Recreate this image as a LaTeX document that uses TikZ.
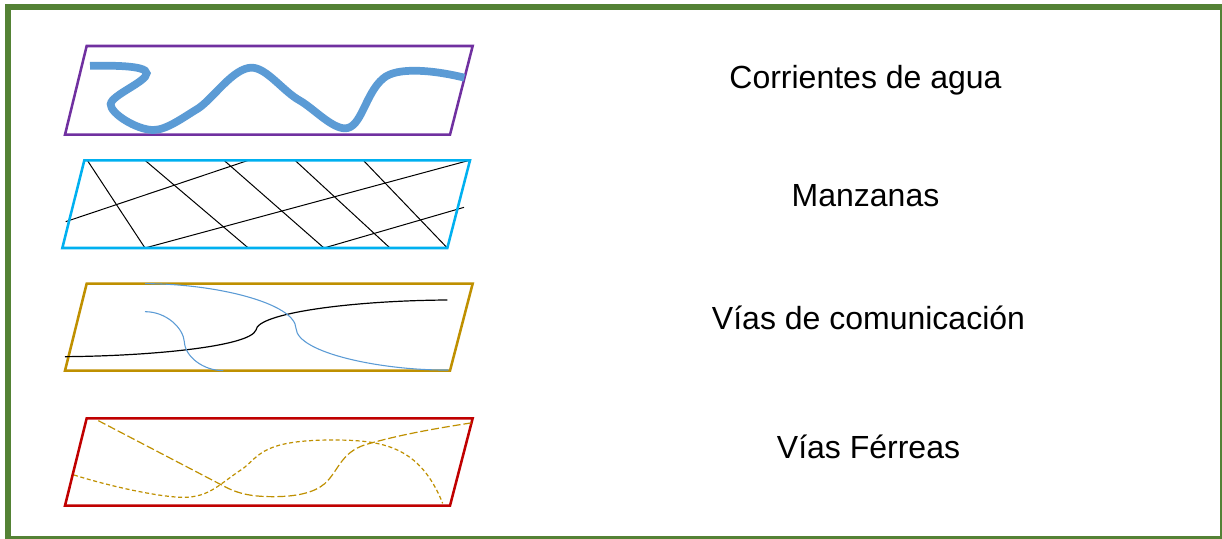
\documentclass[tikz,border=0pt]{standalone}
\usepackage{fontspec}
\setmainfont{Liberation Sans}
\definecolor{framegreen}{HTML}{548235}
\definecolor{riverblue}{HTML}{5B9BD5}
\definecolor{plumb}{HTML}{7030A0}
\definecolor{skyb}{HTML}{00B0F0}
\definecolor{goldb}{HTML}{BF9000}
\definecolor{redb}{HTML}{C00000}
\tikzset{
  plate/.style={line width=1.9pt,line join=miter},
  grid line/.style={black,line width=0.75pt},
  thin road/.style={riverblue,line width=0.8pt},
  main road/.style={black,line width=0.9pt},
  long rail/.style={goldb,line width=0.9pt,dash pattern=on 6pt off 2.2pt},
  short rail/.style={goldb,line width=0.9pt,dash pattern=on 3pt off 2pt},
  label text/.style={font=\fontsize{24}{28}\selectfont,text=black,inner sep=0pt,anchor=center}
}
\begin{document}
\begin{tikzpicture}[x=0.75pt,y=-0.75pt]
\useasboundingbox (0,0) rectangle (1222,539);
\fill[white] (0,0) rectangle (1222,539);
\draw[framegreen,line width=4.5pt] (8,7) rectangle (1223,539);
\begin{scope}[shift={(50,30)},x=0.25pt,y=-0.25pt]
\draw[plate,plumb] (110,48) -- (1268,48) -- (1200,314) -- (45,314) -- cycle;
\draw[riverblue,line width=5.8pt] (120,107) .. controls (180,107) and (290,105) .. (290,130)
  .. controls (290,155) and (185,195) .. (182,222)
  .. controls (180,250) and (260,300) .. (310,300)
  .. controls (350,300) and (400,262) .. (445,235)
  .. controls (490,205) and (550,113) .. (605,113)
  .. controls (650,113) and (700,185) .. (750,212)
  .. controls (790,235) and (845,295) .. (885,295)
  .. controls (935,295) and (945,190) .. (1000,145)
  .. controls (1040,110) and (1150,120) .. (1243,143);
\foreach \a/\b in {112/285,285/595,522/822,735/1020,940/1192}
  \draw[grid line] (\a,391) -- (\b,654);
\draw[grid line] (47,575) -- (595,391);
\draw[grid line] (285,654) -- (1258,391);
\draw[grid line] (822,654) -- (1242,532);
\draw[plate,skyb] (103,391) -- (1260,391) -- (1192,654) -- (37,654) -- cycle;
\end{scope}
\begin{scope}[shift={(50,270)},x=0.25pt,y=-0.25pt]
\draw[plate,goldb] (110,41) -- (1268,41) -- (1200,302) -- (45,302) -- cycle;
\draw[main road] (45,260) .. controls (300,258) and (600,230) .. (618,180)
  .. controls (622,130) and (900,92) .. (1192,90);
\draw[thin road] (285,125) .. controls (350,125) and (400,175) .. (403,215)
  .. controls (405,260) and (460,302) .. (520,302);
\draw[thin road] (285,41) .. controls (500,41) and (735,100) .. (738,175)
  .. controls (742,250) and (1000,302) .. (1195,300);
\draw[plate,redb] (110,445) -- (1268,445) -- (1200,707) -- (45,707) -- cycle;
\draw[long rail] (145,452) -- (515,645) .. controls (560,670) and (600,680) .. (670,680)
  .. controls (760,680) and (810,660) .. (835,630)
  .. controls (870,590) and (880,540) .. (960,520)
  .. controls (1060,492) and (1160,475) .. (1268,458);
\draw[short rail] (72,615) .. controls (200,655) and (340,682) .. (400,682)
  .. controls (480,682) and (510,640) .. (580,595)
  .. controls (630,555) and (640,510) .. (850,510)
  .. controls (1000,510) and (1110,530) .. (1178,700);
\end{scope}
\node[label text] (corrientes) at (865.5,80) {Corrientes de agua};
\node[label text] (manzanas) at (865.5,196) {Manzanas};
\node[label text] (vias) at (868.5,318) {Vías de comunicación};
\node[label text] (ferreas) at (868.5,447) {Vías Férreas};
\end{tikzpicture}
\end{document}
